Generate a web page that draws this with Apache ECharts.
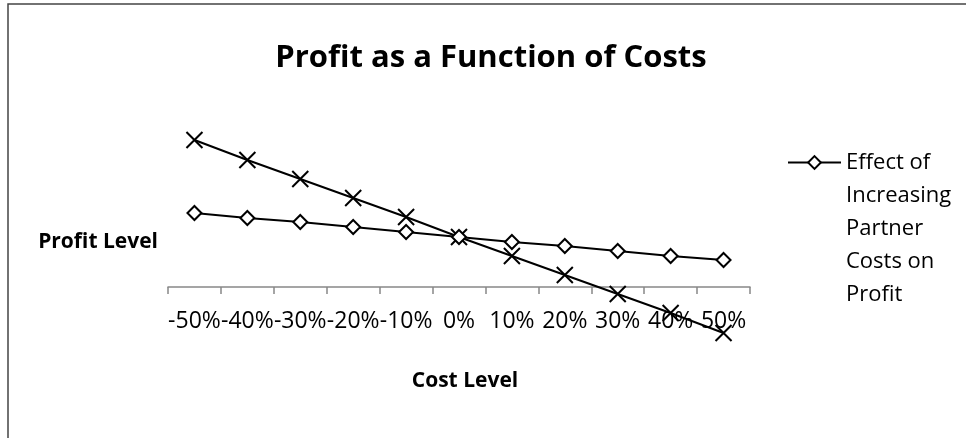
<!DOCTYPE html>
<html>
<head>
<meta charset="utf-8">
<script src="https://cdn.jsdelivr.net/npm/echarts@6/dist/echarts.min.js"></script>
<style>
html, body { margin: 0; padding: 0; background: #fff; }
#main { width: 966px; height: 438px; }
</style>
</head>
<body>
<div id="main"></div>
<script>
// data
var cost_levels = ['-50%', '-40%', '-30%', '-20%', '-10%', '0%', '10%', '20%', '30%', '40%', '50%'];
var partner_name = 'Effect of Increasing Partner Costs on Profit';
var partner_profit = [74, 69, 65, 60, 55, 50, 45, 41, 36, 31, 27];
var other_name = 'Effect of Other Costs on Profit';
var other_profit = [147, 127, 108, 89, 70, 50, 31, 12, -7, -26, -46];

var x_mark = 'path://M0 0L10 10M10 0L0 10';

var chart = echarts.init(document.getElementById('main'));
var option = {
    animation: false,
    textStyle: { fontFamily: 'Open Sans' },
    title: {
        text: 'Profit as a Function of Costs',
        left: 486,
        top: 38,
        textAlign: 'center',
        textStyle: { fontSize: 31, fontWeight: 'bold', color: '#000', fontFamily: 'Open Sans' }
    },
    legend: {
        data: [partner_name],
        left: 787,
        top: 14,
        padding: 0,
        itemWidth: 53,
        itemHeight: 16,
        // 前面空四行，让图标对齐第一行
        formatter: function () { return '\n\n\n\nEffect of\nIncreasing\nPartner\nCosts on\nProfit'; },
        textStyle: { fontSize: 22, lineHeight: 33, color: '#000' }
    },
    graphic: [{ //外框
        type: 'rect',
        shape: { x: 8, y: 4, width: 1200, height: 1000 },
        style: { fill: 'none', stroke: '#444', lineWidth: 1.5 },
        silent: true
    }],
    grid: { left: 168, right: 216, top: 127, bottom: 91, outerBoundsMode: 'none', containLabel: false },
    xAxis: {
        type: 'category',
        data: cost_levels,
        offset: -60, // 横轴放在0的位置
        name: 'Cost Level',
        nameLocation: 'middle',
        nameGap: 84,
        nameTextStyle: { fontSize: 21, fontWeight: 'bold', color: '#000', padding: [0, 0, 0, 12] },
        axisLine: { show: true, onZero: false, lineStyle: { color: '#888', width: 1.5 } },
        axisTick: { show: true, length: 7, lineStyle: { color: '#888', width: 1.5 } },
        axisLabel: { interval: 0, fontSize: 23, color: '#000', margin: 23 }
    },
    yAxis: {
        type: 'value',
        min: -60,
        max: 160,
        name: 'Profit Level',
        nameLocation: 'middle',
        nameRotate: 0,
        nameGap: 10,
        nameTextStyle: { fontSize: 21, fontWeight: 'bold', color: '#000', verticalAlign: 'top', lineHeight: 10 },
        axisLine: { show: false },
        axisTick: { show: false },
        axisLabel: { show: false },
        splitLine: { show: false }
    },
    series: [{
        name: partner_name,
        type: 'line',
        data: partner_profit,
        symbol: 'diamond',
        symbolSize: 14,
        showAllSymbol: true,
        lineStyle: { color: '#000', width: 2 },
        itemStyle: { color: '#fff', borderColor: '#000', borderWidth: 2 },
        z: 3
    }, {
        name: other_name,
        type: 'line',
        data: other_profit,
        symbol: x_mark,
        symbolSize: 16,
        showAllSymbol: true,
        lineStyle: { color: '#000', width: 2 },
        itemStyle: { color: 'none', borderColor: '#000', borderWidth: 2 },
        z: 2
    }]
};
option && chart.setOption(option);
</script>
</body>
</html>
